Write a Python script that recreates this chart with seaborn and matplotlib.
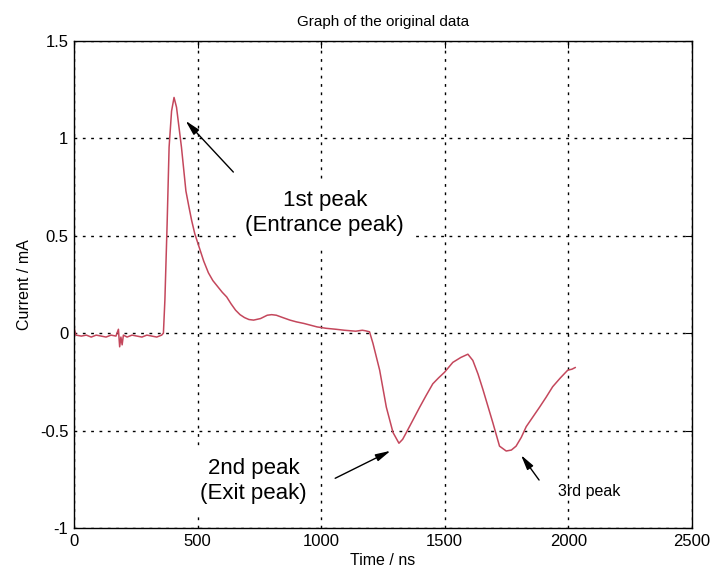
import matplotlib
matplotlib.use("Agg")
import matplotlib.pyplot as plt
import seaborn as sns
import pandas as pd

# Measured current trace
time_ns = [0, 8, 30, 50, 70, 90, 110, 130, 150, 170, 180, 185, 190, 195, 200,
           215, 235, 255, 275, 295, 315, 335, 355, 362, 368, 377, 385, 395, 405,
           415, 435, 453, 465, 476, 489, 507, 525, 544, 562, 581, 600, 618, 636,
           654, 672, 690, 708, 727, 755, 782, 800, 819, 845, 874, 900, 930, 960,
           984, 1020, 1060, 1094, 1140, 1167, 1180, 1196, 1210, 1237, 1264, 1291,
           1315, 1330, 1345, 1370, 1399, 1425, 1452, 1475, 1500, 1533, 1565,
           1594, 1614, 1635, 1655, 1695, 1722, 1749, 1770, 1789, 1810, 1830,
           1857, 1884, 1910, 1937, 1968, 1998, 2015, 2029]
current_ma = [0.03, -0.01, -0.015, -0.01, -0.02, -0.01, -0.015, -0.02, -0.01,
              -0.015, 0.02, -0.07, -0.02, -0.06, -0.01, -0.02, -0.01, -0.015,
              -0.02, -0.01, -0.015, -0.02, -0.01, 0.0, 0.17, 0.56, 0.955, 1.14,
              1.21, 1.16, 0.955, 0.73, 0.65, 0.58, 0.51, 0.44, 0.37, 0.31, 0.27,
              0.24, 0.21, 0.186, 0.15, 0.118, 0.095, 0.08, 0.07, 0.067, 0.075,
              0.092, 0.095, 0.092, 0.08, 0.067, 0.058, 0.05, 0.04, 0.032, 0.025,
              0.02, 0.015, 0.01, 0.015, 0.012, 0.007, -0.053, -0.19, -0.38,
              -0.51, -0.565, -0.545, -0.51, -0.45, -0.38, -0.32, -0.26, -0.23,
              -0.20, -0.15, -0.125, -0.108, -0.14, -0.21, -0.29, -0.46, -0.58,
              -0.605, -0.6, -0.58, -0.535, -0.48, -0.43, -0.38, -0.33, -0.275,
              -0.23, -0.19, -0.185, -0.176]

x_ticks = [0, 500, 1000, 1500, 2000, 2500]
y_ticks = [-1, -0.5, 0, 0.5, 1, 1.5]
y_tick_labels = ["-1", "-0.5", "0", "0.5", "1", "1.5"]

sns.set_style("white")
plt.rcParams["font.family"] = ["Liberation Sans", "DejaVu Sans"]
plt.rcParams["text.color"] = "black"
plt.rcParams["axes.labelcolor"] = "black"

df = pd.DataFrame({"Time / ns": time_ns, "Current / mA": current_ma})

fig = plt.figure(figsize=(7.11, 5.77), dpi=100)
ax = fig.add_axes([0.104, 0.085, 0.869, 0.844])

sns.lineplot(data=df, x="Time / ns", y="Current / mA", ax=ax,
             color="#c4475c", linewidth=1.1, zorder=2)

ax.set_xlim(0, 2500)
ax.set_ylim(-1, 1.5)
ax.set_xticks(x_ticks)
ax.set_yticks(y_ticks)
ax.set_yticklabels(y_tick_labels)
ax.grid(True, color="black", linestyle=(0, (2, 4)), linewidth=1.0, zorder=0)
ax.set_axisbelow(True)
ax.tick_params(direction="in", length=5, top=True, right=True,
               labelsize=12, colors="black", labelcolor="black", pad=4)
for s in ax.spines.values():
    s.set_color("black")
    s.set_linewidth(1.0)

ax.set_xlabel("Time / ns", fontsize=11.5, labelpad=3, color="black")
ax.set_ylabel("Current / mA", fontsize=11.5, labelpad=6, color="black")
ax.set_title("Graph of the original data", fontsize=11, pad=11, color="black")

arrow = dict(arrowstyle="-|>,head_length=0.9,head_width=0.22",
             color="black", lw=1.0, shrinkA=0, shrinkB=0)
box = dict(facecolor="white", edgecolor="none", pad=7)

ax.text(1015, 0.615, "1st peak\n(Entrance peak)", ha="center", va="center",
        fontsize=16, linespacing=1.25, bbox=box, zorder=3, color="black")
ax.annotate("", xy=(452, 1.09), xytext=(645, 0.827), arrowprops=arrow)

ax.text(727, -0.758, "2nd peak\n(Exit peak)", ha="center", va="center",
        fontsize=16, linespacing=1.25, bbox=box, zorder=3, color="black")
ax.annotate("", xy=(1281, -0.604), xytext=(1057, -0.745), arrowprops=arrow)

ax.text(2084, -0.814, "3rd peak", ha="center", va="center", fontsize=11.5,
        zorder=3, color="black")
ax.annotate("", xy=(1809, -0.626), xytext=(1882, -0.754), arrowprops=arrow)

fig.savefig("out.png", dpi=100)
